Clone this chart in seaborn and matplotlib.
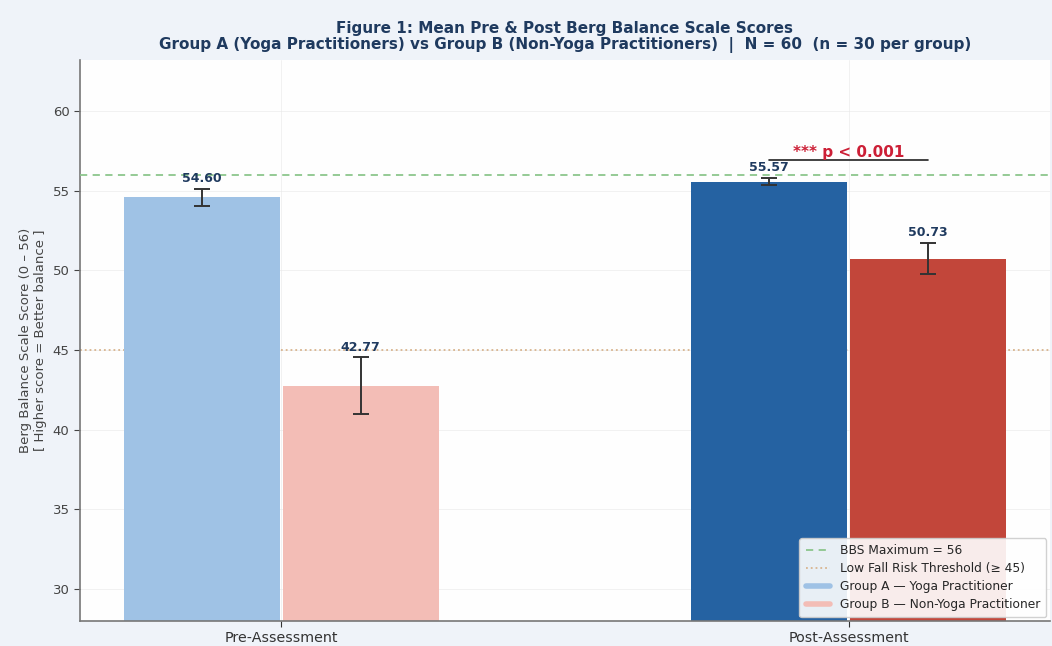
import numpy as np
import pandas as pd
import matplotlib
matplotlib.use("Agg")
import matplotlib.pyplot as plt
from matplotlib.lines import Line2D
import seaborn as sns

# Mean Berg Balance Scale scores and standard errors
phases = ["Pre-Assessment", "Post-Assessment"]
groups = ["Group A — Yoga Practitioner", "Group B — Non-Yoga Practitioner"]
group_a_means = [54.60, 55.57]
group_b_means = [42.77, 50.73]
group_a_sem = [0.53, 0.22]
group_b_sem = [1.76, 0.98]
yticks = [30, 35, 40, 45, 50, 55, 60]

bbs_max = 56
fall_risk_threshold = 45
p_label = "*** p < 0.001"

# Light shades for pre, strong shades for post
colors_a = ["#9fc2e5", "#2562a2"]
colors_b = ["#f3bdb6", "#c2463a"]

df = pd.DataFrame({
    "phase": phases * 2,
    "group": [groups[0]] * 2 + [groups[1]] * 2,
    "mean": group_a_means + group_b_means,
    "sem": group_a_sem + group_b_sem,
})

sns.set_style("white")
plt.rcParams["font.family"] = ["DejaVu Sans"]

fig = plt.figure(figsize=(10.52, 6.46), dpi=100, facecolor="#eff3f9")
ax = fig.add_axes([0.076, 0.039, 0.922, 0.868])
ax.set_facecolor("#fefefe")

sns.barplot(data=df, x="phase", y="mean", hue="group", order=phases,
            hue_order=groups, width=0.56, gap=0.015, errorbar=None, ax=ax,
            legend=False, edgecolor="none", zorder=2)

navy = "#1f3a5f"
# seaborn adds the patches hue by hue: group A bars first, then group B
bar_patches = [p for p in ax.patches][:4]
face = colors_a + colors_b
means = group_a_means + group_b_means
sems = group_a_sem + group_b_sem
centers = []
for patch, fc, m, s in zip(bar_patches, face, means, sems):
    patch.set_facecolor(fc)
    patch.set_alpha(1.0)
    cx = patch.get_x() + patch.get_width() / 2
    centers.append(cx)
    ax.errorbar(cx, m, yerr=s, fmt="none", ecolor="#333333",
                elinewidth=1.4, capsize=6, capthick=1.4, zorder=5)
    ax.text(cx, m + s + 0.25, f"{m:.2f}", ha="center", va="bottom",
            fontsize=9, fontweight="bold", color=navy, zorder=6)

# Reference lines
ax.axhline(bbs_max, color="#8cc68c", linestyle=(0, (4, 3)), linewidth=1.3, zorder=3)
ax.axhline(fall_risk_threshold, color="#d8b48e", linestyle=":", linewidth=1.3, zorder=1)

# Significance bracket between post-assessment groups
post_a, post_b = centers[1], centers[3]
y_sig = 56.9
ax.plot([post_a, post_b], [y_sig, y_sig], color="#222222", linewidth=1.2, zorder=6)
ax.text((post_a + post_b) / 2, y_sig + 0.05, p_label, ha="center", va="bottom",
        fontsize=11, fontweight="bold", color="#cc1f36", zorder=6)

ax.set_ylim(28, 63.2)
ax.set_xlim(-0.355, 1.355)
ax.set_yticks(yticks)
ax.tick_params(axis="y", labelsize=9.5, colors="#444444", length=4, left=True)
ax.tick_params(axis="x", labelsize=10.3, colors="#333333", length=4, bottom=True)
ax.set_xlabel("")
ax.set_ylabel("Berg Balance Scale Score (0 – 56)\n[ Higher score = Better balance ]",
              fontsize=9.5, color="#444444")
ax.grid(True, axis="both", color="#e6e6e6", linewidth=0.6, alpha=0.6, zorder=0)
ax.set_axisbelow(True)
for side in ["top", "right"]:
    ax.spines[side].set_visible(False)
for side in ["left", "bottom"]:
    ax.spines[side].set_color("#777777")
    ax.spines[side].set_linewidth(1.2)

ax.set_title("Figure 1: Mean Pre & Post Berg Balance Scale Scores\n"
             "Group A (Yoga Practitioners) vs Group B (Non-Yoga Practitioners)  |  "
             "N = 60  (n = 30 per group)",
             fontsize=11, fontweight="bold", color=navy, pad=8, linespacing=1.1)

handles = [
    Line2D([], [], color="#8cc68c", linestyle=(0, (4, 3)), linewidth=1.3,
           label=f"BBS Maximum = {bbs_max}"),
    Line2D([], [], color="#d8b48e", linestyle=":", linewidth=1.3,
           label=f"Low Fall Risk Threshold (≥ {fall_risk_threshold})"),
    Line2D([], [], color=colors_a[0], linewidth=4, label=groups[0]),
    Line2D([], [], color=colors_b[0], linewidth=4, label=groups[1]),
]
leg = ax.legend(handles=handles, loc="lower right", fontsize=8.8, frameon=True,
                framealpha=0.9, edgecolor="#cccccc", borderpad=0.5,
                handlelength=2.0, labelspacing=0.4, borderaxespad=0.3)
leg.set_zorder(10)

fig.savefig("out.png", dpi=100, facecolor=fig.get_facecolor())
